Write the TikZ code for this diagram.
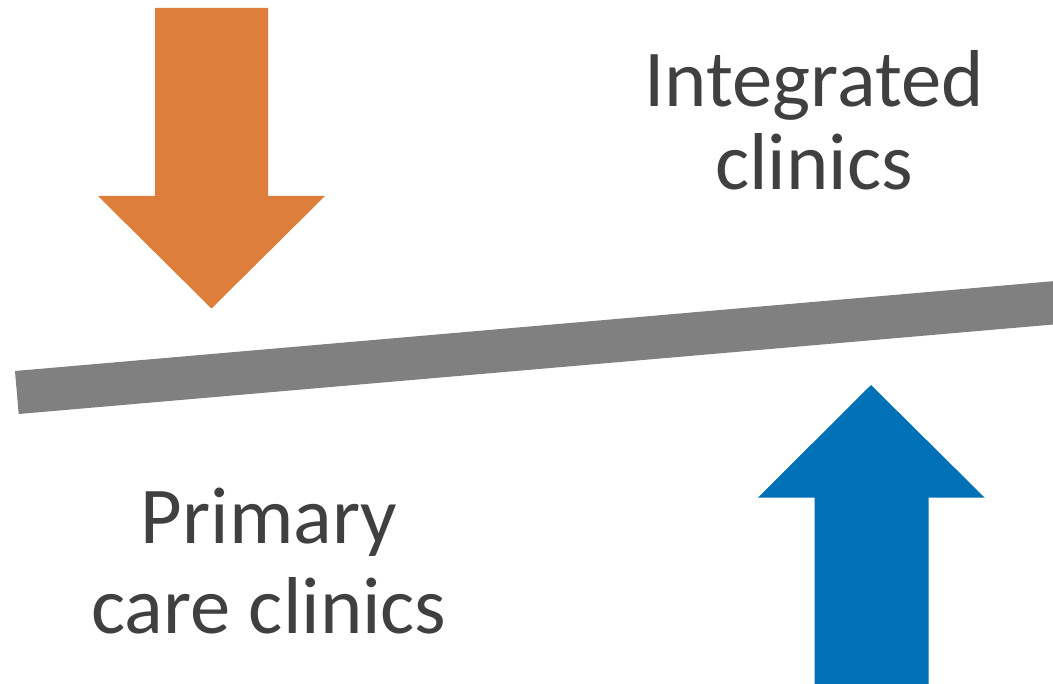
\documentclass[tikz,border=0pt]{standalone}
\usepackage{fontspec}
\setmainfont{Carlito}
\usepackage{xcolor}
\definecolor{arrowOrange}{RGB}{221,126,59}
\definecolor{arrowBlue}{RGB}{0,113,183}
\definecolor{beamGray}{RGB}{128,128,128}
\definecolor{labelGray}{RGB}{64,64,64}
\tikzset{
  bigarrow/.style={draw=none},
  bigtext/.style={inner sep=0pt, align=center, text=labelGray, anchor=base}
}

\begin{document}
\begin{tikzpicture}[x=0.75pt,y=0.75pt,yscale=-1,xscale=1]
\useasboundingbox (0,0) rectangle (1053,684);
\clip (0,0) rectangle (1053,684);

%Shape: Down Arrow (orange)
\fill [arrowOrange, bigarrow] (155,8) -- (268,8) -- (268,196) -- (325,196) -- (211.5,308.5) -- (98,196) -- (155,196) -- cycle ;

%Shape: Beam (tilted bar)
\fill [beamGray] (15,371) -- (1075,279.3) -- (1078.7,322.3) -- (18.7,414) -- cycle ;

%Shape: Up Arrow (blue)
\fill [arrowBlue, bigarrow] (814.5,700) -- (814.5,497.5) -- (758,497.5) -- (871,385) -- (984.5,497.5) -- (928.5,497.5) -- (928.5,700) -- cycle ;

% Text Node
\node [bigtext, font=\fontsize{60.5}{62}\selectfont] (integrated) at (814,189.3) {Integrated\\clinics};
% Text Node
\node [bigtext, font=\fontsize{60.5}{67.5}\selectfont] (primary) at (269,633) {Primary\\care clinics};

\end{tikzpicture}
\end{document}
